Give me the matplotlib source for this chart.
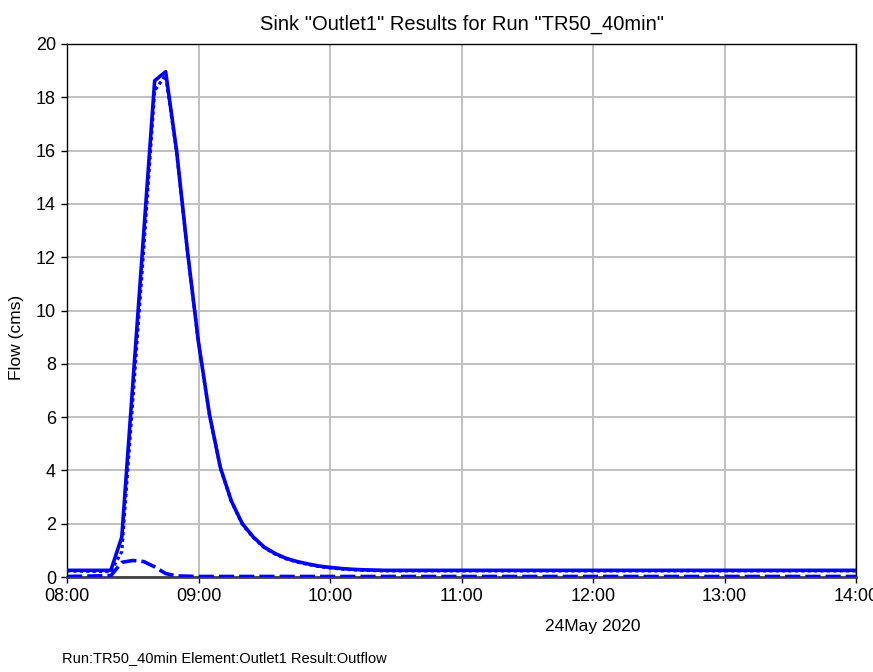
"""
Sink "Outlet1" hydrograph for run TR50_40min.
"""

import numpy as np
import pandas as pd
import matplotlib
matplotlib.use("Agg")
import matplotlib.pyplot as plt
import matplotlib.dates as mdates

plt.rcParams['font.family'] = ['Liberation Sans', 'DejaVu Sans']

# time stamps (24 May 2020); flow is flat after 10:25
times = ["08:00", "08:20", "08:25", "08:30", "08:35", "08:40", "08:45",
         "08:50", "08:55", "09:00", "09:05", "09:10", "09:15", "09:20",
         "09:25", "09:30", "09:35", "09:40", "09:45", "09:50", "09:55",
         "10:00", "10:05", "10:10", "10:15", "10:20", "10:25", "14:00"]

# outflow (solid)
outflow = [0.25, 0.25, 1.5, 7.2, 12.9, 18.62, 18.96,
           16.0, 12.2, 8.8, 6.1, 4.1, 2.85, 2.0,
           1.5, 1.12, 0.88, 0.70, 0.58, 0.49, 0.41,
           0.36, 0.32, 0.29, 0.27, 0.26, 0.25, 0.25]

# main inflow (dotted)
inflow_main = [0.23, 0.20, 0.95, 6.6, 12.3, 18.25, 18.83,
               15.95, 12.17, 8.78, 6.08, 4.08, 2.83, 1.98,
               1.48, 1.10, 0.86, 0.68, 0.56, 0.47, 0.39,
               0.34, 0.30, 0.27, 0.25, 0.24, 0.23, 0.23]

# small inflow (dashed)
inflow_small = [0.02, 0.05, 0.55, 0.62, 0.58, 0.38, 0.13,
                0.04, 0.03, 0.02, 0.02, 0.02, 0.02, 0.02,
                0.02, 0.02, 0.02, 0.02, 0.02, 0.02, 0.02,
                0.02, 0.02, 0.02, 0.02, 0.02, 0.02, 0.02]

t = pd.to_datetime(["2020-05-24 " + s for s in times])

fig = plt.figure(figsize=(8.73, 6.72), dpi=100)
ax = fig.add_axes([67 / 873, 1 - 577 / 672, (856 - 67) / 873, (577 - 44) / 672])

blue = "#0000ff"
ax.plot(t, inflow_small, color=blue, lw=2.6, ls=(0, (4.2, 1.4)), zorder=4)
ax.plot(t, inflow_main, color=blue, lw=2.3, ls=(0, (1, 1)), zorder=4)
ax.plot(t, outflow, color=blue, lw=2.6, ls="-", zorder=5)

ax.set_xlim(pd.Timestamp("2020-05-24 08:00"), pd.Timestamp("2020-05-24 14:00"))
ax.set_ylim(0, 20)
ax.xaxis.set_major_locator(mdates.HourLocator())
ax.xaxis.set_major_formatter(mdates.DateFormatter("%H:%M"))
ax.set_yticks(np.arange(0, 21, 2))

ax.grid(True, color="#c0c0c0", lw=1.4)
ax.set_axisbelow(True)
for s in ax.spines.values():
    s.set_color("black")
    s.set_linewidth(1.0)
ax.spines["bottom"].set_color("#404040")
ax.spines["bottom"].set_linewidth(2.0)
ax.tick_params(direction="out", length=4, width=1, colors="black",
               labelsize=13, pad=4)

ax.set_ylabel("Flow (cms)", fontsize=12.5)
ax.yaxis.set_label_coords(-0.055, 0.45)
ax.set_title('Sink "Outlet1" Results for Run "TR50_40min"', fontsize=14.5, pad=10)

fig.text(593 / 873, 1 - 627 / 672, "24May 2020", ha="center", va="center", fontsize=12.5)
fig.text(62 / 873, 1 - 658 / 672, "Run:TR50_40min Element:Outlet1 Result:Outflow",
         ha="left", va="center", fontsize=10.5)

fig.savefig("out.png", dpi=100)
